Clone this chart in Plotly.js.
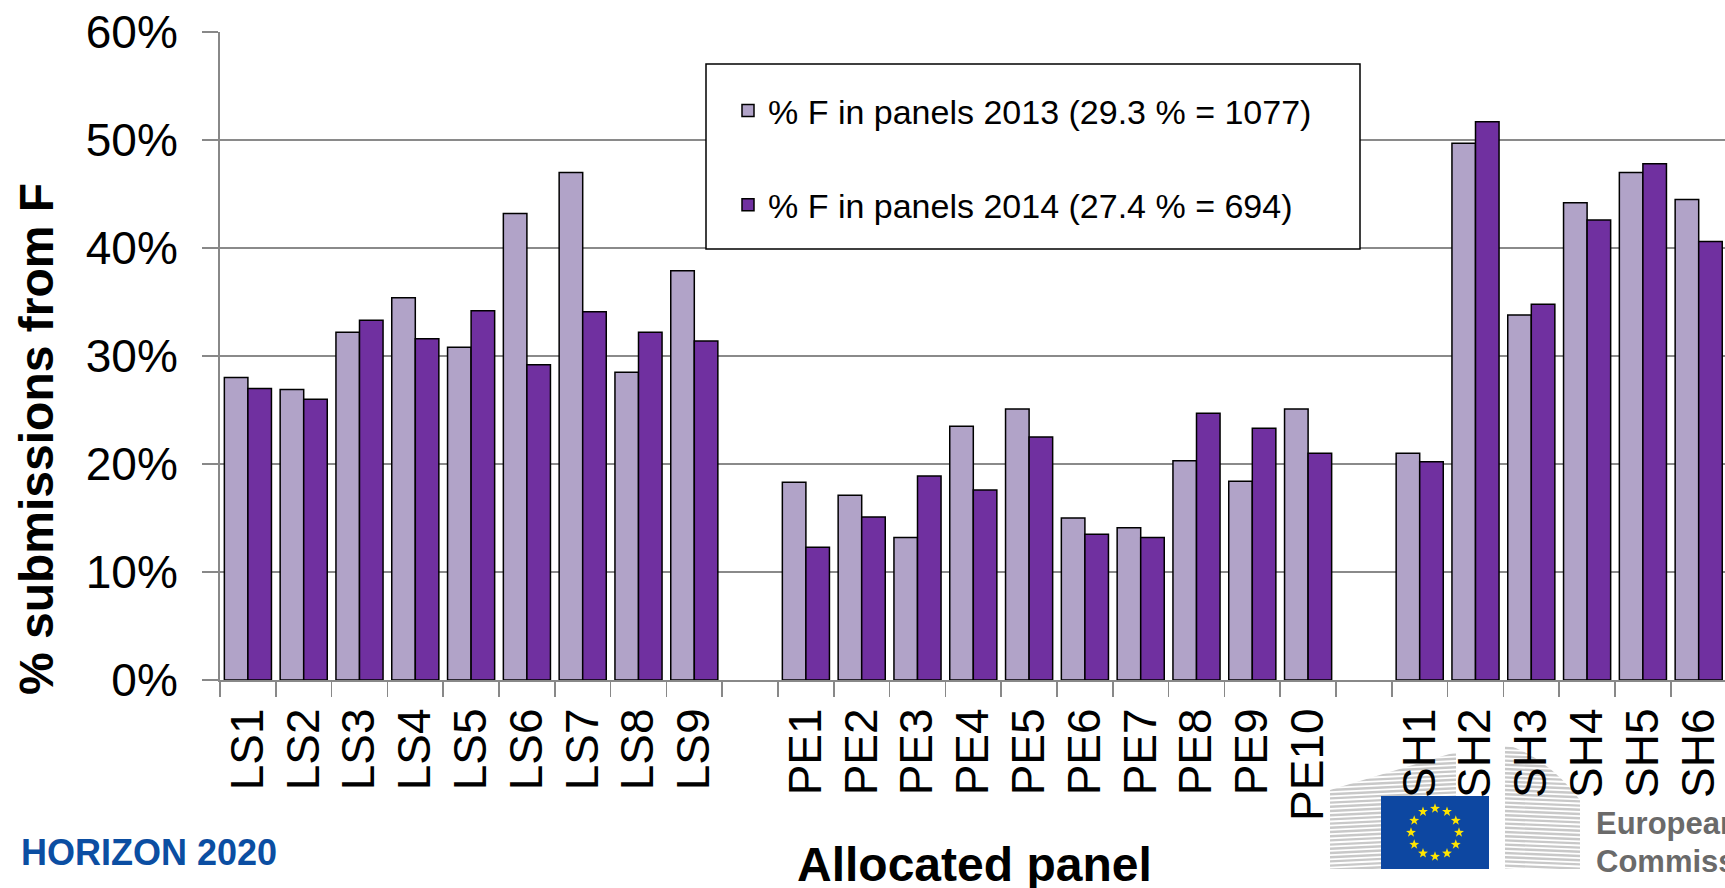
<!DOCTYPE html>
<html>
<head>
<meta charset="utf-8">
<script src="https://cdn.plot.ly/plotly-3.0.1.min.js"></script>
<style>html,body{margin:0;padding:0;overflow:hidden;background:#fff}</style>
</head>
<body>
<div id="chart"></div>
<script>
// ---- data ----
const categories = ['LS1','LS2','LS3','LS4','LS5','LS6','LS7','LS8','LS9',' ',
  'PE1','PE2','PE3','PE4','PE5','PE6','PE7','PE8','PE9','PE10','  ',
  'SH1','SH2','SH3','SH4','SH5','SH6'];
const panels2013 = [28.0,26.9,32.2,35.4,30.8,43.2,47.0,28.5,37.9,null,
  18.3,17.1,13.2,23.5,25.1,15.0,14.1,20.3,18.4,25.1,null,
  21.0,49.7,33.8,44.2,47.0,44.5];
const panels2014 = [27.0,26.0,33.3,31.6,34.2,29.2,34.1,32.2,31.4,null,
  12.3,15.1,18.9,17.6,22.5,13.5,13.2,24.7,23.3,21.0,null,
  20.2,51.7,34.8,42.6,47.8,40.6];
const seriesNames = ['% F in panels 2013 (29.3 % = 1077)', '% F in panels 2014 (27.4 % = 694)'];
const yTickVals = [0,10,20,30,40,50,60];
const yTickLabels = ['0%','10%','20%','30%','40%','50%','60%'];

// ---- geometry helpers (pixels -> paper) ----
const W = 1725, H = 888, ML = 220, MR = 0, MT = 32, MB = 208;
const PW = W - ML - MR, PH = H - MT - MB, PB = H - MB;
const px = p => (p - ML) / PW;
const py = p => (PB - p) / PH;

// ---- EC logo artwork (decorative) ----
function logoSvg(){
  const X0 = 1325, Y0 = 740, Wd = 260, Ht = 132;
  let s = `<svg xmlns="http://www.w3.org/2000/svg" width="${Wd}" height="${Ht}" viewBox="${X0} ${Y0} ${Wd} ${Ht}">`;
  s += `<defs><clipPath id="a"><polygon points="1330,790 1456,752 1456,869 1330,869"/></clipPath>`;
  s += `<clipPath id="b"><path d="M1505,744 Q1548,758 1580,800 L1580,869 L1505,869 Z"/></clipPath></defs>`;
  let la = '', lb = '';
  for (let y = 748; y <= 870; y += 4.2) {
    la += `<line x1="1330" y1="${y}" x2="1456" y2="${y - 6}" />`;
    lb += `<line x1="1505" y1="${y}" x2="1580" y2="${y + 3}" />`;
  }
  s += `<g clip-path="url(#a)" stroke="#c8c8c8" stroke-width="2.4">${la}</g>`;
  s += `<g clip-path="url(#b)" stroke="#c8c8c8" stroke-width="2.4">${lb}</g>`;
  s += `<rect x="1381" y="796" width="108" height="73" fill="#0d47a1"/>`;
  const cx = 1435, cy = 832.5, R = 24;
  for (let k = 0; k < 12; k++) {
    const a = k * Math.PI / 6;
    const sx = cx + R * Math.sin(a), sy = cy - R * Math.cos(a);
    let pts = [];
    for (let j = 0; j < 10; j++) {
      const r = j % 2 ? 2.1 : 5.2;
      const b = j * Math.PI / 5;
      pts.push((sx + r * Math.sin(b)).toFixed(2) + ',' + (sy - r * Math.cos(b)).toFixed(2));
    }
    s += `<polygon points="${pts.join(' ')}" fill="#ffe500"/>`;
  }
  s += `</svg>`;
  return {src: 'data:image/svg+xml;charset=utf-8,' + encodeURIComponent(s), X0, Y0, Wd, Ht};
}
const logo = logoSvg();

const FONT = 'Liberation Sans, Arial, sans-serif';

const traces = [
  {type:'bar', name: seriesNames[0], x: categories, y: panels2013,
   marker:{color:'#b1a3c8', line:{color:'#000', width:1.5}}, legendgroup:'a'},
  {type:'bar', name: seriesNames[1], x: categories, y: panels2014,
   marker:{color:'#7030a0', line:{color:'#000', width:1.5}}, legendgroup:'b'}
];

const layout = {
  width: W, height: H,
  margin: {l: ML, r: MR, t: MT, b: MB, pad: 0},
  paper_bgcolor: '#fff', plot_bgcolor: '#fff',
  barmode: 'group', bargap: 0.156, bargroupgap: 0,
  showlegend: true,
  legend: {x: px(728), y: py(82), xanchor:'left', yanchor:'top',
    bgcolor:'rgba(0,0,0,0)', borderwidth:0, tracegroupgap: 47,
    font:{family: FONT, size: 34, color:'#000'}},
  xaxis: {type:'category', categoryorder:'array', categoryarray: categories,
    range:[-0.5, -0.5 + PW / 55.8], tickson:'boundaries', ticks:'outside', ticklen:15,
    tickcolor:'#888', tickwidth:1.5, showline:true, linecolor:'#888', linewidth:2,
    showgrid:false, tickangle:-90, ticklabelstandoff: 8,
    tickfont:{family: FONT, size:46, color:'#000'},
    fixedrange:true},
  yaxis: {range:[0,60], tickmode:'array', tickvals: yTickVals, ticktext: yTickLabels,
    ticks:'outside', ticklen:16,
    tickcolor:'#888', tickwidth:2, showline:true, linecolor:'#888', linewidth:2,
    showgrid:true, gridcolor:'#8a8a8a', gridwidth:2, zeroline:false,
    ticklabelstandoff: 15,
    tickfont:{family: FONT, size:46, color:'#000'}, fixedrange:true},
  shapes: [
    {type:'rect', xref:'paper', yref:'paper', x0: px(706), x1: px(1360), y0: py(249), y1: py(64),
     line:{color:'#000', width:1.5}, fillcolor:'#fff', layer:'above'}
  ],
  images: [
    {source: logo.src, xref:'paper', yref:'paper', x: px(logo.X0), y: py(logo.Y0),
     sizex: logo.Wd / PW, sizey: logo.Ht / PH, xanchor:'left', yanchor:'top',
     sizing:'stretch', layer:'below'}
  ],
  annotations: [
    {text:'<b>% submissions from F</b>', xref:'paper', yref:'paper', x: px(36), y: py(439),
     xanchor:'center', yanchor:'middle', textangle:-90, showarrow:false,
     font:{family: FONT, size:48, color:'#000'}},
    {text:'<b>Allocated panel</b>', xref:'paper', yref:'paper', x: px(974), y: py(836),
     xanchor:'center', yanchor:'top', showarrow:false,
     font:{family: FONT, size:48, color:'#000'}},
    {text:'<b>HORIZON 2020</b>', xref:'paper', yref:'paper', x: px(19), y: py(852),
     xanchor:'left', yanchor:'middle', showarrow:false,
     font:{family: FONT, size:36, color:'#0b4ea2'}},
    {text:'<b>European</b>', xref:'paper', yref:'paper', x: px(1594), y: py(823),
     xanchor:'left', yanchor:'middle', showarrow:false,
     font:{family: FONT, size:31, color:'#6a6a6a'}},
    {text:'<b>Commission</b>', xref:'paper', yref:'paper', x: px(1594), y: py(861),
     xanchor:'left', yanchor:'middle', showarrow:false,
     font:{family: FONT, size:31, color:'#6a6a6a'}}
  ]
};

Plotly.newPlot('chart', traces, layout, {displayModeBar:false, staticPlot:true});
</script>
</body>
</html>
